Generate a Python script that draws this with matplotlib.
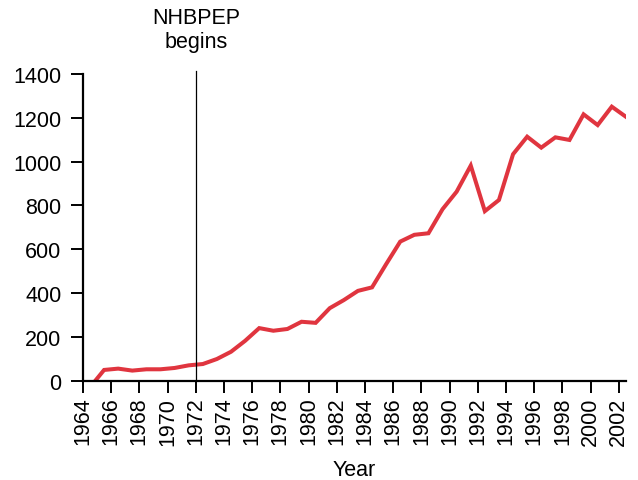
import matplotlib
matplotlib.use('Agg')
import matplotlib.pyplot as plt
import numpy as np

plt.rcParams['font.family'] = ['Liberation Sans', 'DejaVu Sans']

# data, plotted at mid-year
years = list(range(1964, 2003))
values = [-30, 49, 55, 46, 52, 52, 58, 70, 76, 99,
          132, 182, 240, 228, 236, 269, 264, 331, 368, 410,
          426, 532, 635, 666, 673, 783, 863, 982, 774, 825,
          1034, 1114, 1064, 1111, 1099, 1216, 1167, 1251, 1205]
start_year = 1972
start_text = 'NHBPEP\nbegins'
xticks = list(range(1964, 2003, 2))
yticks = list(range(0, 1401, 200))

fig = plt.figure(figsize=(6.38, 4.81), dpi=100)
ax = fig.add_axes([0.130, 0.2065, 0.851, 0.6375])

x = np.array(years) + 0.5
ax.plot(x, values, color='#e0353f', linewidth=2.9, solid_joinstyle='miter')

ax.axvline(start_year, ymin=0, ymax=1.01, color='black', linewidth=0.9, clip_on=False)
ax.text(start_year, 1.145, start_text, transform=ax.get_xaxis_transform(),
        ha='center', va='center', fontsize=15.5, linespacing=1.15)

ax.set_xlim(1964, 2002.5)
ax.set_ylim(0, 1400)
ax.set_xticks(xticks)
ax.set_xticklabels([str(t) for t in xticks], rotation=90)
ax.set_yticks(yticks)

for side in ['top', 'right']:
    ax.spines[side].set_visible(False)
for side in ['left', 'bottom']:
    ax.spines[side].set_linewidth(1.6)

ax.tick_params(axis='both', labelsize=15.5, width=1.4, length=8.5, direction='out')
ax.tick_params(axis='y', pad=7)
ax.tick_params(axis='x', pad=3)
ax.set_xlabel('Year', fontsize=15.5, labelpad=10)

fig.savefig('out.png', dpi=100)
